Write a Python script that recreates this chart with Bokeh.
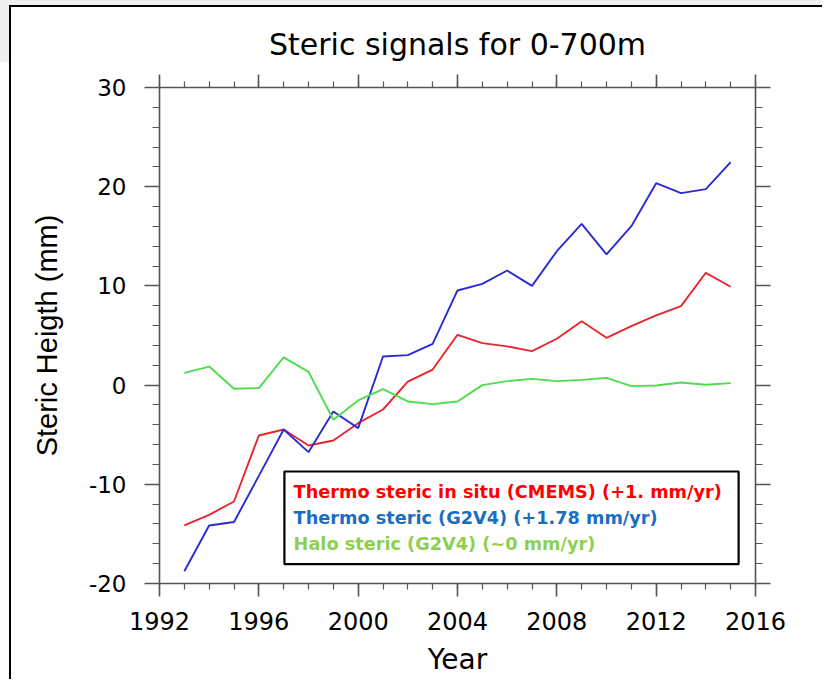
from bokeh.plotting import figure
from bokeh.models import (Range1d, FixedTicker, LinearAxis, Label, BoxAnnotation,
                          ColumnDataSource, CustomJSTickFormatter)
from bokeh.embed import file_html
from bokeh.resources import INLINE

# ---------------- data ----------------
years = list(range(1993, 2016))
thermo_insitu_cmems = [-14.15, -13.08, -11.73, -5.08, -4.48, -6.09, -5.58, -3.84, -2.46, 0.36,
                       1.57, 5.07, 4.23, 3.90, 3.42, 4.67, 6.44, 4.77, 5.94, 7.02, 7.96, 11.32, 9.91]
thermo_g2v4 = [-18.76, -14.15, -13.80, -9.15, -4.48, -6.76, -2.66, -4.34, 2.88, 3.02,
               4.16, 9.54, 10.20, 11.55, 10.00, 13.50, 16.26, 13.17, 16.02, 20.35, 19.35, 19.75, 22.47]
halo_g2v4 = [1.24, 1.87, -0.37, -0.30, 2.80, 1.34, -3.50, -1.55, -0.40, -1.65,
             -1.92, -1.65, 0.00, 0.40, 0.63, 0.40, 0.53, 0.73, -0.10, -0.04, 0.26, 0.03, 0.20]

x_major = [1992, 1996, 2000, 2004, 2008, 2012, 2016]
x_minor = list(range(1992, 2017))
y_major = [-20, -10, 0, 10, 20, 30]
y_minor = list(range(-20, 31, 2))

legend_labels = ["Thermo steric in situ (CMEMS) (+1. mm/yr)",
                 "Thermo steric (G2V4) (+1.78 mm/yr)",
                 "Halo steric (G2V4) (~0 mm/yr)"]

title_text = "Steric signals for 0-700m"
x_label = "Year"
y_label = "Steric Heigth (mm)"

# ---------------- styling ----------------
LINE_COLORS = ["#e8262e", "#2b2bd4", "#4fdc4f"]
TEXT_COLORS = ["#ff0000", "#1a6ec2", "#8ed04e"]
AXIS_COLOR = "#555555"
FONT = "DejaVu Sans"

src = ColumnDataSource(dict(year=years, red=thermo_insitu_cmems, blue=thermo_g2v4, green=halo_g2v4))

p = figure(width=822, height=679, output_backend="svg", toolbar_location=None,
           x_range=Range1d(1992, 2016), y_range=Range1d(-20, 30),
           min_border_left=159, min_border_right=67, min_border_top=87, min_border_bottom=96,
           x_axis_label=x_label, y_axis_label=y_label)
# outer frame of the original screenshot (black corner lines, light-grey strip)
p.styles = {
    "background": ("linear-gradient(#000,#000) 9px 5px/2px calc(100% - 5px) no-repeat, "
                   "linear-gradient(#000,#000) 9px 5px/calc(100% - 9px) 2px no-repeat, "
                   "linear-gradient(#efefef,#efefef) 0 0/100% 5px no-repeat, "
                   "linear-gradient(#efefef,#efefef) 0 0/9px 62px no-repeat, #ffffff"),
}

p.outline_line_color = None
p.xgrid.visible = False
p.ygrid.visible = False
p.background_fill_color = "white"
p.border_fill_color = None

p.title.text = title_text
p.title.align = "center"
p.title.text_font = FONT
p.title.text_font_size = "30px"
p.title.text_font_style = "normal"
p.title.text_color = "black"
p.title.standoff = 25

def style_axis(ax, major_out, minor_out, ticks, minors, show_labels):
    ax.ticker = FixedTicker(ticks=ticks, minor_ticks=minors)
    ax.axis_line_color = AXIS_COLOR
    ax.axis_line_width = 1.6
    ax.major_tick_line_color = AXIS_COLOR
    ax.major_tick_line_width = 1.6
    ax.minor_tick_line_color = AXIS_COLOR
    ax.minor_tick_line_width = 1.2
    ax.major_tick_in = 0
    ax.major_tick_out = major_out
    ax.minor_tick_in = 0
    ax.minor_tick_out = minor_out
    if show_labels:
        ax.formatter = CustomJSTickFormatter(code="return String(tick)")
    else:
        ax.formatter = CustomJSTickFormatter(code="return ''")
        ax.major_label_standoff = 0

xb = p.xaxis[0]
yl = p.yaxis[0]
style_axis(xb, 13, 6, x_major, x_minor, True)
style_axis(yl, 15, 7, y_major, y_minor, True)

xb.major_label_text_font = FONT
xb.major_label_text_font_size = "24px"
xb.major_label_text_color = "black"
xb.major_label_standoff = 15
xb.axis_label_text_font = FONT
xb.axis_label_text_font_size = "28px"
xb.axis_label_text_font_style = "normal"
xb.axis_label_text_color = "black"
xb.axis_label_standoff = 10

yl.major_label_text_font = FONT
yl.major_label_text_font_size = "23px"
yl.major_label_text_color = "black"
yl.major_label_standoff = 18
yl.axis_label_text_font = "Liberation Sans"
yl.axis_label_text_font_size = "29px"
yl.axis_label_text_font_style = "normal"
yl.axis_label_text_color = "black"
yl.axis_label_standoff = 23

xt = LinearAxis()
style_axis(xt, 13, 6, x_major, x_minor, False)
p.add_layout(xt, "above")
yr = LinearAxis()
style_axis(yr, 15, 7, y_major, y_minor, False)
p.add_layout(yr, "right")

# ---------------- lines ----------------
for col, c in zip(["red", "blue", "green"], LINE_COLORS):
    p.line("year", col, source=src, line_color=c, line_width=1.9)

# ---------------- legend box ----------------
box = BoxAnnotation(left=1997.03, right=2015.32, top=-8.71, bottom=-18.05,
                    fill_color="white", fill_alpha=1.0, line_color="black", line_width=2.2,
                    line_alpha=1.0)
p.add_layout(box)
for i, (txt, c) in enumerate(zip(legend_labels, TEXT_COLORS)):
    p.add_layout(Label(x=1997.40, y=-10.73 - 2.62 * i, text=txt, text_color=c,
                       text_font=FONT, text_font_size="17.7px", text_font_style="bold",
                       text_baseline="middle", text_align="left"))

open("out.html", "w").write(file_html(p, INLINE))
